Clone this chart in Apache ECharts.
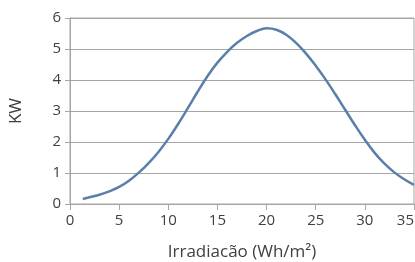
<!DOCTYPE html>
<html>
<head>
<meta charset="utf-8">
<script src="https://cdn.jsdelivr.net/npm/echarts@6/dist/echarts.min.js"></script>
<style>
html,body{margin:0;padding:0;background:#fff;}
#chart{width:415px;height:262px;}
</style>
</head>
<body>
<div id="chart"></div>
<script>
var irradiacao = [1.3, 2, 3, 4, 5, 6, 7, 8, 9, 10, 11, 12, 13, 14, 15, 16, 17, 18,
	19, 20, 21, 22, 23, 24, 25, 26, 27, 28, 29, 30, 31, 32, 33, 34, 35];
var potencia = [0.16, 0.22, 0.30, 0.41, 0.55, 0.75, 1.01, 1.32, 1.68, 2.10, 2.58, 3.10, 3.63, 4.13, 4.56, 4.91, 5.20, 5.42,
	5.58, 5.67, 5.62, 5.46, 5.20, 4.86, 4.46, 4.02, 3.54, 3.04, 2.54, 2.07, 1.65, 1.30, 1.02, 0.80, 0.62];

var myChart = echarts.init(document.getElementById('chart'));
var pts = irradiacao.map(function (x, i) { return [x, potencia[i]]; });
var option = {
	animation: false,
	textStyle: { fontFamily: 'Open Sans' },
	grid: {
		left: 70, right: 1, top: 18, bottom: 58,
		outerBoundsMode: 'none',
		show: true, borderColor: '#a6a6a6', borderWidth: 1
	},
	xAxis: {
		type: 'value',
		min: 0, max: 35, interval: 5,
		name: 'Irradiacão (Wh/m²)',
		nameLocation: 'middle',
		nameGap: 40,
		nameTextStyle: { fontSize: 17, color: '#404040' },
		axisLine: { lineStyle: { color: '#a6a6a6' } },
		axisTick: { show: true, length: 6, lineStyle: { color: '#a6a6a6' } },
		axisLabel: { fontSize: 15, color: '#404040', margin: 9, alignMaxLabel: 'right' },
		splitLine: { show: false }
	},
	yAxis: {
		type: 'value',
		min: 0, max: 6, interval: 1,
		name: 'KW',
		nameLocation: 'middle',
		nameGap: 45,
		nameTextStyle: { fontSize: 17, color: '#404040' },
		axisLine: { show: true, lineStyle: { color: '#a6a6a6' } },
		axisTick: { show: true, length: 5, lineStyle: { color: '#a6a6a6' } },
		axisLabel: { fontSize: 15, color: '#404040', margin: 9 },
		splitLine: { lineStyle: { color: '#a6a6a6', width: 1 } }
	},
	series: [{
		type: 'line',
		data: pts,
		smooth: 0.4,
		showSymbol: false,
		lineStyle: { color: '#5a7faa', width: 2.5 }
	}]
};
myChart.setOption(option);
</script>
</body>
</html>
